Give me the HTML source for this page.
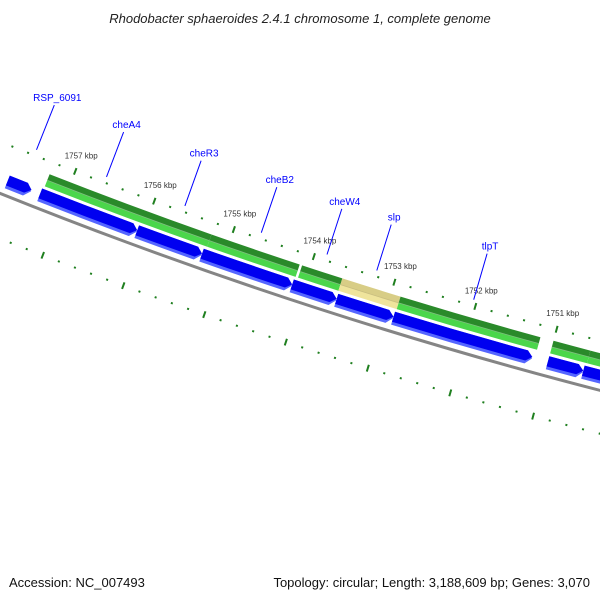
<!DOCTYPE html>
<html><head><meta charset="utf-8"><style>
html,body{margin:0;padding:0;background:#fff;}
svg{display:block;font-family:"Liberation Sans",sans-serif;}
</style></head><body>
<svg id="map" width="600" height="600" viewBox="0 0 600 600">
<text x="300" y="23" text-anchor="middle" font-size="13" font-style="italic" fill="#222">Rhodobacter sphaeroides 2.4.1 chromosome 1, complete genome</text>
<g id="plot"></g>
<text x="9" y="587" font-size="13" fill="#111">Accession: NC_007493</text>
<text x="590" y="587" text-anchor="end" font-size="13" fill="#111">Topology: circular; Length: 3,188,609 bp; Genes: 3,070</text>
</svg>
<script>
// data
const geneStarts = [1757.27, 1755.23, 1754.10, 1753.60, 1752.88, 1751.00, 1750.55];
const geneEnds   = [1755.23, 1754.13, 1753.60, 1752.88, 1751.16, 1750.55, 1749.40];
const geneKinds  = ['gene','gene','gene','misc','gene','gene','gene'];
const cdsStarts  = [1757.70, 1757.29, 1756.07, 1755.26, 1754.14, 1753.59, 1752.89, 1751.00, 1750.57];
const cdsEnds    = [1757.40, 1756.07, 1755.26, 1754.14, 1753.59, 1752.89, 1751.19, 1750.57, 1749.40];
const labelNames = ['RSP_6091','cheA4','cheR3','cheB2','cheW4','slp','tlpT'];
const labelKbp   = [1757.52, 1756.63, 1755.64, 1754.68, 1753.86, 1753.24, 1752.04];
const majorTicks = [1749, 1750, 1751, 1752, 1753, 1754, 1755, 1756, 1757];
const tickLabels = ['1749 kbp','1750 kbp','1751 kbp','1752 kbp','1753 kbp','1754 kbp','1755 kbp','1756 kbp','1757 kbp'];

const NS='http://www.w3.org/2000/svg';
const plot=document.getElementById('plot');
const CX=1825, CY=-4352;
function ang(k){return (105.16+(k-1751)*0.998)*Math.PI/180;}
function P(k,r){const a=ang(k);return [CX+r*Math.cos(a), CY+r*Math.sin(a)];}
function f(p){return p[0].toFixed(2)+' '+p[1].toFixed(2);}
function mk(tag,attrs){const e=document.createElementNS(NS,tag);for(const k in attrs)e.setAttribute(k,attrs[k]);plot.appendChild(e);return e;}
function band(a,b,r1,r2){
  return 'M'+f(P(a,r1))+' A'+r1+' '+r1+' 0 0 0 '+f(P(b,r1))+' L'+f(P(b,r2))+' A'+r2+' '+r2+' 0 0 1 '+f(P(a,r2))+' Z';
}
function arrow(a,b,r1,r2){
  const t=Math.min(0.07,(a-b)*0.4), rm=(r1+r2)/2;
  return 'M'+f(P(a,r1))+' A'+r1+' '+r1+' 0 0 0 '+f(P(b+t,r1))+' L'+f(P(b,rm))+' L'+f(P(b+t,r2))+' A'+r2+' '+r2+' 0 0 1 '+f(P(a,r2))+' Z';
}
const D=5;

// backbone
let bb=mk('path',{d:'M'+f(P(1760,4893+D))+' A'+(4893+D)+' '+(4893+D)+' 0 0 0 '+f(P(1748,4893+D)),fill:'none',stroke:'#858585','stroke-width':3});



// ticks
for(let k=1748.0;k<=1760.01;k+=0.2){
  const kk=Math.round(k*10)/10;
  const major=Math.abs(kk-Math.round(kk))<0.01;
  [4850,4940].forEach(function(r){
    const h=major?3.5:1;
    const a=P(kk,r-h), b=P(kk,r+h);
    const t=mk('line',{x1:a[0].toFixed(2),y1:a[1].toFixed(2),x2:b[0].toFixed(2),y2:b[1].toFixed(2),stroke:'#1f7f1f','stroke-width':2});
    
    
  });
}
majorTicks.forEach(function(k,i){
  const p=P(k,4850);
  const t=mk('text',{x:(p[0]+6).toFixed(1),y:(p[1]-13).toFixed(1),'text-anchor':'middle','font-size':8,fill:'#333'});
  t.textContent=tickLabels[i];
  
  
});

// genes (green / yellow)
geneStarts.forEach(function(a,i){
  const b=geneEnds[i];
  const misc=geneKinds[i]==='misc';
  const g1=mk('path',{d:band(a,b,4857+D,4863.5+D),fill:misc?'#d8cd86':'#2a8a2a'});
  
  
  const g2=mk('path',{d:band(a,b,4863.5+D,4870+D),fill:misc?'#efe49c':'#4bd64b'});
  
  
  const rm=4863.5+D;
  const g3=mk('path',{d:'M'+f(P(a,rm))+' A'+rm+' '+rm+' 0 0 0 '+f(P(b,rm)),fill:'none',stroke:misc?'#c8bd80':'#7fbf7f','stroke-width':0.8});
  
  
});

// CDS (blue arrows)
cdsStarts.forEach(function(a,i){
  const b=cdsEnds[i];
  const c1=mk('path',{d:arrow(a,b,4873+D,4886.5+D),fill:'#5566ff'});
  
  
  const c2=mk('path',{d:arrow(a,b,4873+D,4883.5+D),fill:'#0000f0'});
  
  
});

// gene labels
labelNames.forEach(function(n,i){
  const k=labelKbp[i];
  const pi=P(k,4844), po=P(k,4796);
  const l=mk('line',{x1:pi[0].toFixed(1),y1:pi[1].toFixed(1),x2:po[0].toFixed(1),y2:po[1].toFixed(1),stroke:'#0000ff','stroke-width':1});
  
  
  const t=mk('text',{x:(po[0]+3).toFixed(1),y:(po[1]-4).toFixed(1),'text-anchor':'middle','font-size':10,fill:'#0000ff'});
  t.textContent=n;
  
  
});
</script>
</body></html>
